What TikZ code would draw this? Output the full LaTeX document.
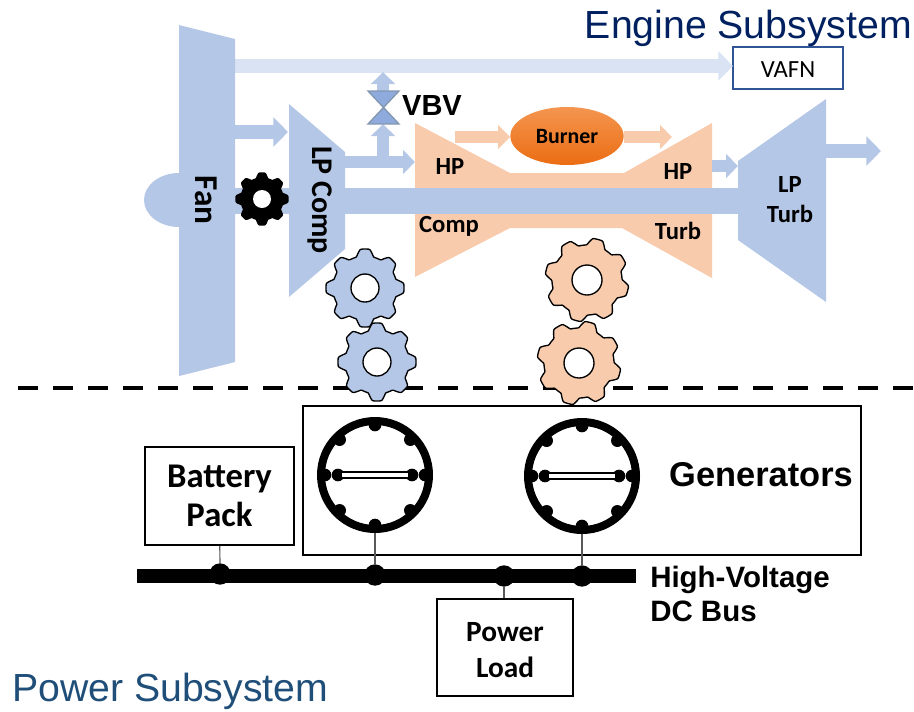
\documentclass[tikz,border=0pt]{standalone}
\usepackage{fontspec}
\setmainfont{Carlito}
\newfontfamily\arialfont{Liberation Sans}
\usepackage{tikz}
\usetikzlibrary{arrows.meta,shapes.geometric}
\definecolor{CoolBlue}{HTML}{B4C7E7}
\definecolor{PaleBlue}{HTML}{DAE3F3}
\definecolor{ValveBlue}{HTML}{8FAADC}
\definecolor{ValveEdge}{HTML}{8497B0}
\definecolor{HotPeach}{HTML}{F8CBAD}
\definecolor{BurnTop}{HTML}{F4954F}
\definecolor{BurnLow}{HTML}{EB6D13}
\definecolor{EngineNavy}{HTML}{002060}
\definecolor{PowerNavy}{HTML}{1F4E79}
\definecolor{VafnEdge}{HTML}{2F5597}
\definecolor{WireGray}{HTML}{595959}

\begin{document}
\begin{tikzpicture}[
    x=0.75pt,y=-0.75pt,
    lbl/.style={font=\bfseries\fontsize{18.5}{20}\selectfont,align=center,inner sep=0pt},
    bigarr/.style={line width=10.5pt,-{Triangle[length=11pt,width=21.5pt,sep=0pt]}},
    smallarr/.style={line width=8.6pt,-{Triangle[length=9pt,width=17.5pt,sep=0pt]}},
    powerbox/.style={draw,line width=1.6pt,align=center,inner sep=0pt},
    busdot/.style={circle,fill=black,inner sep=0pt,minimum size=16pt},
    rimdot/.style={circle,fill=black,inner sep=0pt,minimum size=9.5pt},
    wire/.style={draw=WireGray,line width=0.9pt},
    rim/.style={circle,draw,line width=6pt,inner sep=0pt,minimum size=81pt},
    pics/gearwheel/.style n args={4}{code={
      \draw[fill=#1,line width=1pt,line join=round] plot[samples=193,domain=0:360]
        ({(#2-#3+#3*max(-1,min(1,1.7*cos(8*(\x-#4)))))*cos(\x)},{(#2-#3+#3*max(-1,min(1,1.7*cos(8*(\x-#4)))))*sin(\x)}) -- cycle;
    }},
    pics/generator/.style={code={
      \foreach \ang in {45,90,135,180,225,270,315,360}
        \node[rimdot] at (\ang:50) {};
      \node[rimdot] at (-37,0) {};
      \node[rimdot] at (37,0) {};
      \draw[fill=white,line width=1.5pt] (-34,-3) rectangle (34,3);
    }}
  ]
    \useasboundingbox (0,0) rectangle (914,711);

    % engine flow path
    \fill[CoolBlue] (179,200) ellipse (35 and 27);
    \coordinate (bypassin) at (234,66);
    \coordinate (vafnin) at (733,66);
    \node[draw=VafnEdge,line width=1.3pt,minimum width=82pt,minimum height=31.5pt,inner sep=0pt,text height=14pt,text depth=0pt,font=\fontsize{18.5}{20}\selectfont] (vafn) at (788,68) {VAFN};
    \draw[bigarr,draw=PaleBlue] (bypassin) -- (vafnin);
    \fill[HotPeach] (415,123) -- (510,173) -- (624,173) -- (712,123) -- (712,278) -- (622,228) -- (510,228) -- (415,277) -- cycle;
    \fill[CoolBlue] (235,188) rectangle (738,214);
    \fill[CoolBlue] (179,25) -- (235,39) -- (235,362) -- (179,376) -- cycle;
    \fill[CoolBlue] (289,104) -- (345,152) -- (345,249) -- (289,297) -- cycle;
    \fill[CoolBlue] (738,161) -- (826,99) -- (826,302) -- (738,240) -- cycle;

    \coordinate (fanout) at (235,132);
    \coordinate (lpin) at (288,132);
    \coordinate (lpout) at (345,162);
    \coordinate (hpin) at (415,162);
    \coordinate (bleed) at (383,162);
    \coordinate (valvelow) at (383,124);
    \coordinate (valvetop) at (383,92);
    \coordinate (bleedend) at (383,72);
    \coordinate (hotin) at (455,137);
    \coordinate (hotout) at (672,137);
    \coordinate (turbout) at (712,166);
    \coordinate (turbin) at (738,166);
    \coordinate (exhin) at (826,151);
    \coordinate (exhout) at (881,151);
    \node[ellipse,minimum width=85pt,minimum height=43.5pt,inner sep=0pt,top color=BurnTop,bottom color=BurnLow,font=\bfseries\fontsize{16.4}{18}\selectfont] (burner) at (567,136) {Burner};

    \draw[bigarr,draw=CoolBlue] (fanout) -- (lpin);
    \draw[smallarr,draw=CoolBlue] (lpout) -- (hpin);
    \draw[smallarr,draw=CoolBlue] (bleed) -- (valvelow);
    \draw[smallarr,draw=CoolBlue] (valvetop) -- (bleedend);
    \draw[smallarr,draw=HotPeach] (hotin) -- (hotin -| burner.west);
    \draw[smallarr,draw=HotPeach] (hotout -| burner.east) -- (hotout);
    \draw[smallarr,draw=CoolBlue] (turbout) -- (turbin);
    \draw[bigarr,draw=CoolBlue] (exhin) -- (exhout);
    \draw[fill=ValveBlue,draw=ValveEdge,line width=1pt] (368,91) -- (399,91) -- (368,124) -- (399,124) -- cycle;

    % labels
    \node[font=\arialfont\bfseries\fontsize{21.8}{24}\selectfont,inner sep=0pt] (vbv) at (432,105) {VBV};
    \node[lbl,rotate=-90,font=\bfseries\fontsize{25}{27}\selectfont] (fan) at (206,200) {Fan};
    \node[lbl,rotate=-90,font=\bfseries\fontsize{22.5}{24}\selectfont] (lpcomp) at (320,200) {LP Comp};
    \node[lbl] (hpcomp) at (450,166) {HP};
    \node[lbl] (comp) at (449,226) {Comp};
    \node[lbl] (hpturb) at (678,171) {HP};
    \node[lbl] (turb) at (678,231) {Turb};
    \node[lbl,font=\bfseries\fontsize{18.5}{22.5}\selectfont] (lpturb) at (790,200) {LP\\Turb};

    % shaft and gears
    \draw[line width=3.6pt,dash pattern=on 15pt off 11.25pt] (18,388) -- (914,388);
    \pic at (262,199) {gearwheel={black}{26}{2.5}{0}};
    \fill[white] (262,199) circle (9);
    \pic at (365,288) {gearwheel={CoolBlue}{39}{3.5}{0}};
    \draw[fill=white,line width=1pt] (365,288) circle (14);
    \pic at (377,362) {gearwheel={CoolBlue}{39}{3.5}{0}};
    \draw[fill=white,line width=1pt] (377,362) circle (14);
    \pic at (587,280) {gearwheel={HotPeach}{42}{3.5}{15}};
    \draw[fill=white,line width=1pt] (587,280) circle (15);
    \pic at (579,363) {gearwheel={HotPeach}{42}{3.5}{15}};
    \draw[fill=white,line width=1pt] (579,363) circle (15);

    % power side
    \node[powerbox,minimum width=418.5pt,minimum height=111.5pt] (genbox) at (582,480.5) {};
    \node[font=\arialfont\bfseries\fontsize{25.8}{28}\selectfont,inner sep=0pt] (genlabel) at (761,475) {Generators};
    \node[powerbox,minimum width=111.5pt,minimum height=73.5pt,font=\bfseries\fontsize{26}{29}\selectfont] (battery) at (219.5,496) {Battery\\Pack};
    \node[powerbox,minimum width=102pt,minimum height=72.5pt,font=\bfseries\fontsize{22}{27}\selectfont] (load) at (505,647.5) {\rule{0pt}{17.5pt}Power\\Load};
    \node[fill=black,minimum width=374pt,minimum height=11pt,inner sep=0pt] (bus) at (386.5,576) {};
    \node[rim] (genA) at (375,475) {};
    \node[rim] (genB) at (582,476) {};
    \pic at (375,475) {generator};
    \pic at (582,476) {generator};
    \node[busdot] (jbatt) at (220,574) {};
    \node[busdot] (jgenA) at (375,575) {};
    \node[busdot] (jload) at (504,576) {};
    \node[busdot] (jgenB) at (582,576) {};
    \draw[wire] (battery) -- (jbatt);
    \draw[wire] (genA) -- (jgenA);
    \draw[wire] (load.north -| jload) -- (jload);
    \draw[wire] (genB) -- (jgenB);
    \node[font=\arialfont\bfseries\fontsize{22.1}{26}\selectfont,align=left,inner sep=0pt,anchor=west] (buslabel) at (650,594) {High-Voltage\\DC Bus};

    \node[font=\arialfont\fontsize{29.4}{32}\selectfont,text=EngineNavy,inner sep=0pt,anchor=east] (engine) at (912,28) {Engine Subsystem};
    \node[font=\arialfont\fontsize{29.4}{32}\selectfont,text=PowerNavy,inner sep=0pt,anchor=west] (power) at (12,691) {Power Subsystem};
  \end{tikzpicture}
\end{document}
